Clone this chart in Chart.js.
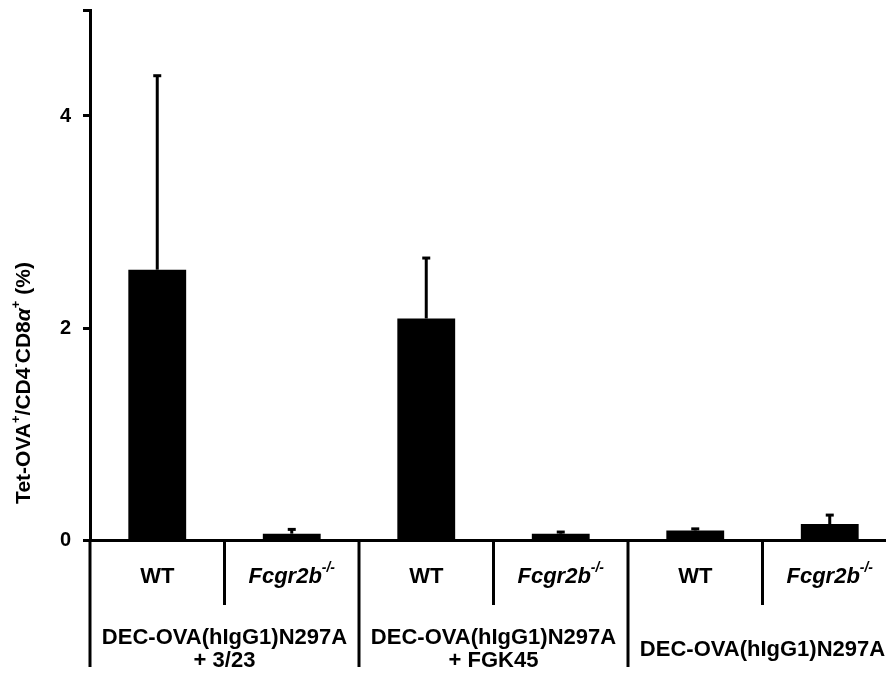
<!DOCTYPE html>
<html>
<head>
<meta charset="utf-8">
<script src="https://cdn.jsdelivr.net/npm/chart.js@4/dist/chart.umd.min.js"></script>
<style>
  html, body { margin: 0; padding: 0; background: #fff; overflow: hidden; }
  #wrap { width: 897px; height: 674px; }
</style>
</head>
<body>
<div id="wrap"><canvas id="chart" width="897" height="674"></canvas></div>
<script>
// --- data
const subLabels = ["WT", "Fcgr2b-/-", "WT", "Fcgr2b-/-", "WT", "Fcgr2b-/-"];
const groupLabels = [
  ["DEC-OVA(hIgG1)N297A", "+ 3/23"],
  ["DEC-OVA(hIgG1)N297A", "+ FGK45"],
  ["DEC-OVA(hIgG1)N297A"]
];
const meanValues = [2.55, 0.06, 2.09, 0.06, 0.09, 0.15];
const errValues = [1.83, 0.04, 0.57, 0.015, 0.015, 0.085];
const yTickValues = [0, 2, 4, 5];
const yTickLabels = ["0", "2", "4", ""];
const yTitleParts = [
  { t: "Tet-OVA" }, { t: "+", sup: true }, { t: "/CD4" }, { t: "-", sup: true },
  { t: "CD8" }, { t: "\u03b1", it: true }, { t: "+", sup: true }, { t: " (%)" }
];

const FONT = "'Liberation Sans', Arial, sans-serif";
const FS = 22;

// draw text made of parts (superscripts / italics), centred at x,y
function drawRich(ctx, parts, x, y, size) {
  const fontOf = p => {
    const s = p.sup ? Math.round(size * 0.62) : size;
    const it = p.it ? "italic " : "";
    return `${it}bold ${s}px ${FONT}`;
  };
  let total = 0;
  parts.forEach(p => { ctx.font = fontOf(p); total += ctx.measureText(p.t).width; });
  let cx = x - total / 2;
  ctx.textAlign = "left";
  ctx.textBaseline = "middle";
  parts.forEach(p => {
    ctx.font = fontOf(p);
    ctx.fillText(p.t, cx, p.sup ? y - size * 0.38 : y);
    cx += ctx.measureText(p.t).width;
  });
}

function labelParts(s) {
  if (s.endsWith("-/-")) return [{ t: s.slice(0, -3), it: true }, { t: "-/-", sup: true, it: true }];
  return [{ t: s }];
}

const decorPlugin = {
  id: "decor",
  afterDatasetsDraw(chart) {
    const { ctx, chartArea } = chart;
    const x = chart.scales.x, y = chart.scales.y;
    ctx.save();
    ctx.strokeStyle = "#000";
    ctx.fillStyle = "#000";

    // error bars (upper only)
    meanValues.forEach((v, i) => {
      const px = x.getPixelForValue(i);
      const yb = y.getPixelForValue(v);
      const yt = y.getPixelForValue(v + errValues[i]);
      ctx.lineWidth = 3;
      ctx.beginPath();
      ctx.moveTo(px, yb);
      ctx.lineTo(px, yt);
      ctx.stroke();
      ctx.fillRect(px - 4, yt - 1.5, 8, 3);
    });

    // y axis continues below the baseline
    const bottom = chartArea.bottom;
    ctx.lineWidth = 3;
    ctx.beginPath();
    ctx.moveTo(chartArea.left, bottom);
    ctx.lineTo(chartArea.left, bottom + 127);
    ctx.stroke();

    // separators between categories
    const half = (x.getPixelForValue(1) - x.getPixelForValue(0)) / 2;
    for (let i = 0; i < subLabels.length - 1; i++) {
      const sx = x.getPixelForValue(i) + half;
      const len = (i % 2 === 1) ? 127 : 65;
      ctx.beginPath();
      ctx.moveTo(sx, bottom);
      ctx.lineTo(sx, bottom + len);
      ctx.stroke();
    }

    // category labels
    subLabels.forEach((s, i) => {
      drawRich(ctx, labelParts(s), x.getPixelForValue(i), bottom + 37, FS);
    });

    // group labels
    groupLabels.forEach((lines, g) => {
      const gx = (x.getPixelForValue(g * 2) + x.getPixelForValue(g * 2 + 1)) / 2;
      if (lines.length === 1) {
        drawRich(ctx, [{ t: lines[0] }], gx, bottom + 110, FS);
      } else {
        lines.forEach((l, k) => drawRich(ctx, [{ t: l }], gx, bottom + 98 + k * 23, FS));
      }
    });

    // y axis title
    ctx.translate(24, (chartArea.top + bottom) / 2 + 108);
    ctx.rotate(-Math.PI / 2);
    drawRich(ctx, yTitleParts, 0, 0, 21);
    ctx.restore();
  }
};

new Chart(document.getElementById("chart"), {
  type: "bar",
  data: {
    labels: subLabels,
    datasets: [{
      data: meanValues,
      backgroundColor: "#000",
      borderWidth: 0,
      categoryPercentage: 1,
      barPercentage: 0.43
    }]
  },
  options: {
    responsive: false,
    animation: false,
    layout: { padding: { top: 10, bottom: 134, left: 0, right: 0 } },
    plugins: { legend: { display: false }, tooltip: { enabled: false } },
    scales: {
      x: {
        grid: { display: false, drawTicks: false },
        ticks: { display: false },
        border: { display: true, color: "#000", width: 3 },
        afterFit(scale) { scale.height = 0; }
      },
      y: {
        min: 0,
        max: 5,
        afterBuildTicks(scale) { scale.ticks = yTickValues.map(v => ({ value: v })); },
        afterFit(scale) {
          scale.width = 90;
          scale.paddingTop = 0;
          scale.paddingBottom = 0;
        },
        grid: { drawOnChartArea: false, drawTicks: true, tickLength: 7, tickWidth: 3, color: "#000" },
        border: { display: true, color: "#000", width: 3 },
        ticks: {
          padding: 12,
          color: "#000",
          font: { family: FONT, size: 20, weight: "bold" },
          callback: (v, i) => yTickLabels[i]
        }
      }
    }
  },
  plugins: [decorPlugin]
});
</script>
</body>
</html>
